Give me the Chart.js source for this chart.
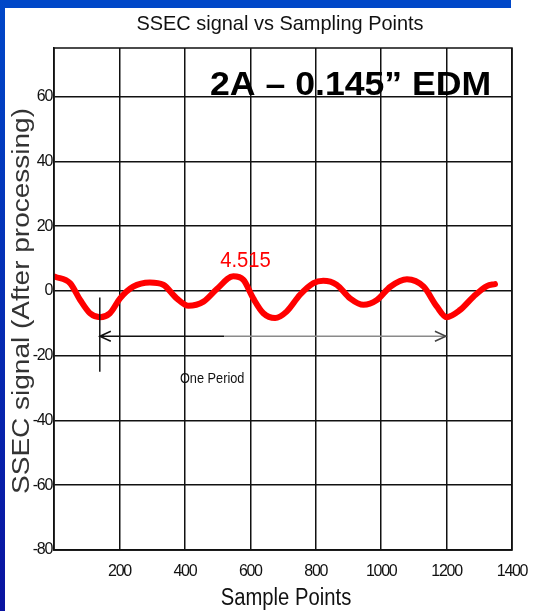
<!DOCTYPE html>
<html lang="en">
<head>
  <meta charset="UTF-8">
  <title>SSEC signal vs Sampling Points</title>
  <script src="https://cdn.jsdelivr.net/npm/chart.js"></script>
  <style>
    body {
      margin: 0;
      padding: 0;
      background: #ffffff;
      overflow: hidden;
    }
    #wrap {
      position: relative;
      width: 533px;
      height: 611px;
    }
    /* slide frame bits */
    .band-top {
      position: absolute;
      left: 0; top: 0;
      width: 511px; height: 8px;
      background: #0047c8;
    }
    .band-left {
      position: absolute;
      left: 0; top: 0;
      width: 5px; height: 611px;
      background: linear-gradient(to bottom, #0047c8, #0a14a0);
    }
    canvas {
      position: absolute;
      left: 0; top: 0;
    }
  </style>
</head>
<body>

<div id="wrap">
  <div class="band-top"></div>
  <div class="band-left"></div>
  <canvas id="ssecChart" width="533" height="611"></canvas>
</div>

<script>
  // values
  const samplePoints = [3, 49, 80, 110, 141, 171, 202, 242, 293, 334, 375, 411, 457, 497, 548, 579, 609, 640, 676, 711, 752, 793, 823, 864, 905, 946, 987, 1028, 1079, 1130, 1170, 1200, 1241, 1282, 1323, 1348];
  const ssecSignal = [4.4, 2.4, -2.8, -6.9, -8.1, -6.9, -2.3, 1.3, 2.6, 1.9, -2.3, -4.6, -3.3, 0.5, 4.5, 3.4, -2.3, -6.9, -8.4, -6.4, -1.2, 2.4, 3.1, 1.9, -2.3, -4.3, -2.8, 1.3, 3.6, 1.3, -4.8, -8.1, -5.9, -1.8, 1.5, 2.1];

  const xTickValues = [200, 400, 600, 800, 1000, 1200, 1400];
  const yTickValues = [-80, -60, -40, -20, 0, 20, 40, 60];

  const peakLabel = '4.515';
  const periodStart = 140;
  const periodEnd = 1198;
  const periodArrowY = -14;

  const SANS = "'Liberation Sans', Arial, sans-serif";

  // draw text squeezed horizontally by sx
  function squeezeText(ctx, text, x, y, font, color, sx, align, rotate) {
    ctx.save();
    ctx.font = font;
    ctx.fillStyle = color;
    ctx.textAlign = align || 'left';
    ctx.textBaseline = 'alphabetic';
    ctx.translate(x, y);
    ctx.scale(sx, 1);
    if (rotate) ctx.rotate(-Math.PI / 2);
    ctx.fillText(text, 0, 0);
    ctx.restore();
  }

  const decorPlugin = {
    id: 'decor',
    beforeDraw(chart) {
      // matlab text in the figure is very condensed
      chart.ctx.letterSpacing = '-1.3px';
    },
    afterDraw(chart) {
      const ctx = chart.ctx;
      const a = chart.chartArea;
      const xs = chart.scales.x;
      const ys = chart.scales.y;

      // box
      ctx.save();
      ctx.strokeStyle = '#111';
      ctx.lineWidth = 1.5;
      ctx.strokeRect(a.left, a.top, a.right - a.left, a.bottom - a.top);

      // period marker and arrow
      const px0 = xs.getPixelForValue(periodStart);
      const px1 = xs.getPixelForValue(periodEnd);
      const py = ys.getPixelForValue(periodArrowY);
      ctx.lineWidth = 1.5;
      ctx.beginPath();
      ctx.moveTo(px0, ys.getPixelForValue(-2));
      ctx.lineTo(px0, ys.getPixelForValue(-25));
      ctx.stroke();

      const pmid = xs.getPixelForValue(520);
      ctx.strokeStyle = '#111';
      ctx.beginPath();
      ctx.moveTo(px0, py);
      ctx.lineTo(pmid, py);
      ctx.moveTo(px0 + 11, py - 5);
      ctx.lineTo(px0, py);
      ctx.lineTo(px0 + 11, py + 5);
      ctx.stroke();
      ctx.strokeStyle = '#8a8a8a';
      ctx.beginPath();
      ctx.moveTo(pmid, py);
      ctx.lineTo(px1, py);
      ctx.stroke();
      ctx.strokeStyle = '#444';
      ctx.beginPath();
      ctx.moveTo(px1 - 11, py - 5);
      ctx.lineTo(px1, py);
      ctx.lineTo(px1 - 11, py + 5);
      ctx.stroke();
      ctx.restore();

      ctx.letterSpacing = '0px';
      // texts
      squeezeText(ctx, 'SSEC signal vs Sampling Points', 280, 30, '21px ' + SANS, '#111', 0.95, 'center');
      squeezeText(ctx, 'Sample Points', 286, 605, '23px ' + SANS, '#111', 0.88, 'center');
      squeezeText(ctx, 'SSEC signal (After processing)', 29, 301, '28px ' + SANS, '#333', 0.85, 'center', true);
      squeezeText(ctx, '2A \u2013 0.145\u201D EDM', 210, 95, 'bold 33px ' + SANS, '#000', 1.08, 'left');
      squeezeText(ctx, peakLabel, xs.getPixelForValue(508), ys.getPixelForValue(7.4), '22px ' + SANS, '#ff0000', 0.92, 'left');
      squeezeText(ctx, 'One Period', xs.getPixelForValue(385), ys.getPixelForValue(-28.4), '15px ' + SANS, '#111', 0.85, 'left');
    }
  };

  const ctx = document.getElementById('ssecChart').getContext('2d');

  const chart = new Chart(ctx, {
    type: 'line',
    data: {
      datasets: [{
        label: 'SSEC signal',
        data: samplePoints.map((x, i) => ({ x: x, y: ssecSignal[i] })),
        borderColor: '#ff0000',
        borderWidth: 6,
        borderCapStyle: 'round',
        borderJoinStyle: 'round',
        pointRadius: 0,
        cubicInterpolationMode: 'monotone',
        fill: false
      }]
    },
    options: {
      responsive: false,
      animation: false,
      devicePixelRatio: 1,
      layout: { padding: { top: 48, right: 21, left: 0, bottom: 0 } },
      plugins: {
        legend: { display: false },
        tooltip: { enabled: false }
      },
      scales: {
        x: {
          type: 'linear',
          min: 0,
          max: 1400,
          afterBuildTicks(scale) {
            scale.ticks = xTickValues.map(v => ({ value: v }));
          },
          afterFit(scale) {
            scale.height = 61;
            scale.paddingLeft = 0;
            scale.paddingRight = 0;
          },
          grid: { color: '#111', lineWidth: 1.5, drawTicks: false },
          border: { color: '#111', width: 1.5 },
          ticks: {
            padding: 12,
            color: '#111',
            maxRotation: 0,
            font: { family: SANS, size: 16 },
            callback: v => String(v)
          }
        },
        y: {
          min: -80,
          max: 75,
          afterBuildTicks(scale) {
            scale.ticks = yTickValues.map(v => ({ value: v }));
          },
          afterFit(scale) {
            scale.width = 54;
            scale.paddingTop = 0;
            scale.paddingBottom = 0;
          },
          grid: { color: '#111', lineWidth: 1.5, drawTicks: false },
          border: { color: '#111', width: 1.5 },
          ticks: {
            padding: 2,
            color: '#111',
            font: { family: SANS, size: 16 },
            callback: v => String(v)
          }
        }
      }
    },
    plugins: [decorPlugin]
  });
</script>

</body>
</html>
